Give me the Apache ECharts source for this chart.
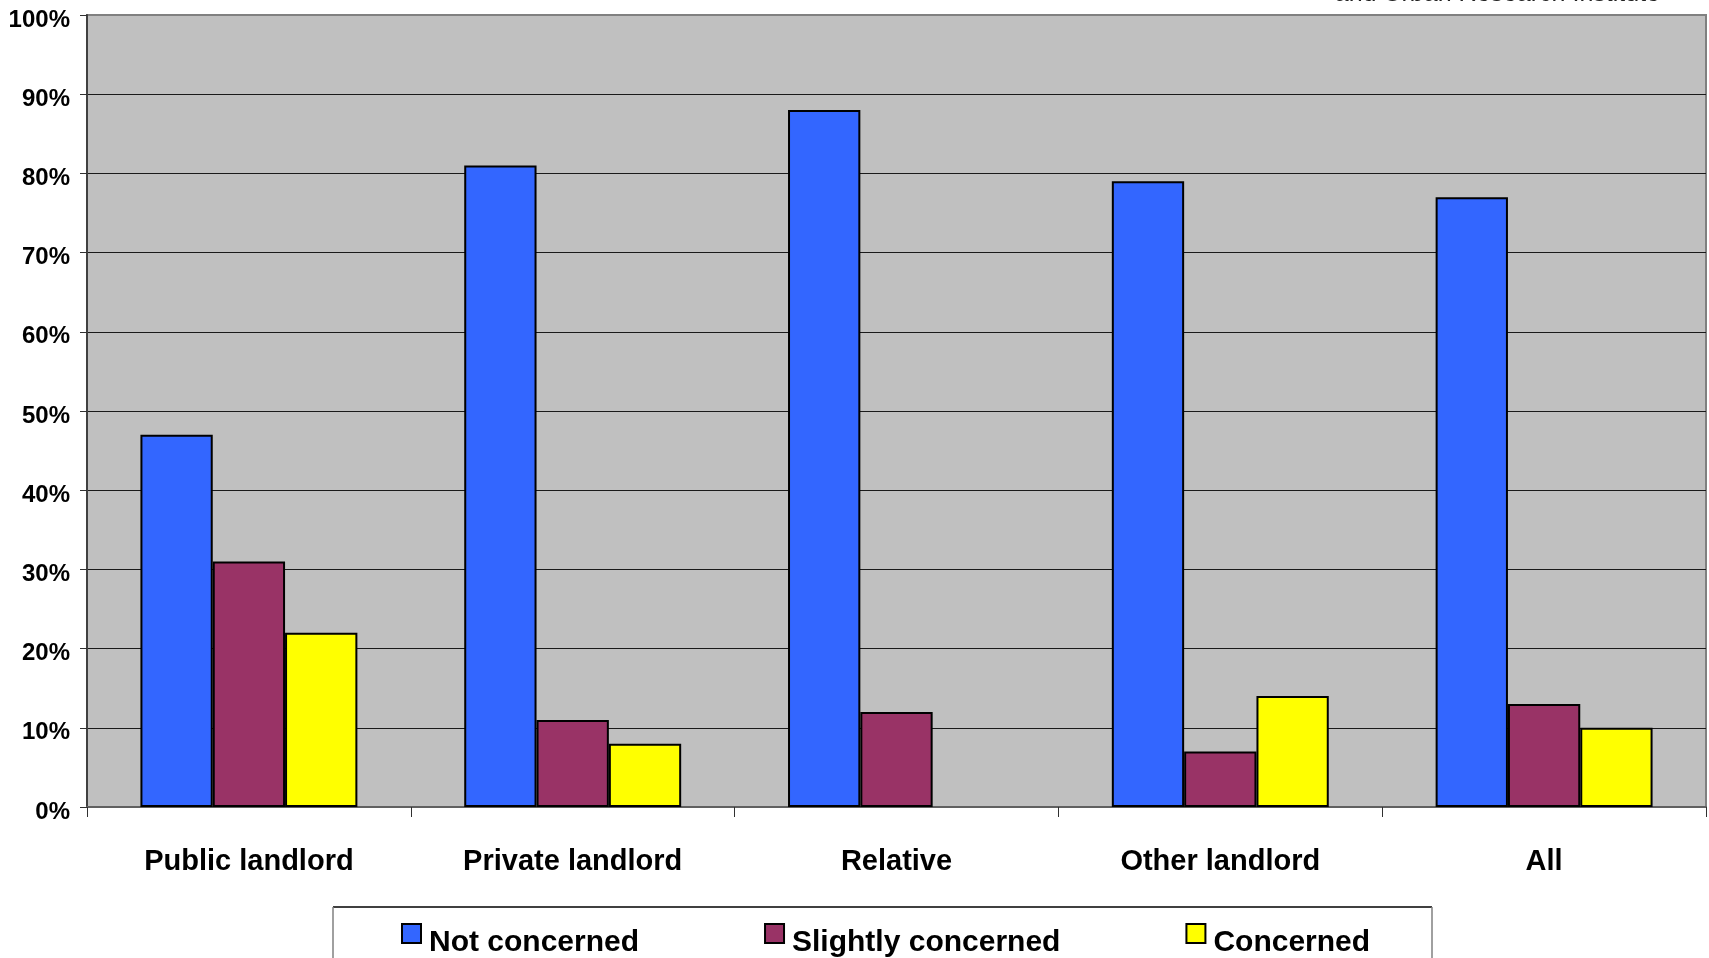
<!DOCTYPE html>
<html>
<head>
<meta charset="utf-8">
<style>
  html, body { margin: 0; padding: 0; background: #ffffff; }
  #chart { width: 1709px; height: 958px; }
</style>
<script src="https://cdn.jsdelivr.net/npm/echarts@6/dist/echarts.min.js"></script>
</head>
<body>
<div id="chart"></div>
<script>
// Landlord type categories along the x axis
const categories = ['Public landlord', 'Private landlord', 'Relative', 'Other landlord', 'All'];

// Share of tenants (%) by level of concern
const notConcerned = [47, 81, 88, 79, 77];
const slightlyConcerned = [31, 11, 12, 7, 13];
const concerned = [22, 8, null, 14, 10];

const seriesNames = ['Not concerned', 'Slightly concerned', 'Concerned'];
const seriesColors = ['#3366FF', '#993366', '#FFFF00'];

const FONT = '"Liberation Sans", Arial, Helvetica, sans-serif';

const chart = echarts.init(document.getElementById('chart'), null, { renderer: 'canvas' });

function barSeries(name, data, color) {
  return {
    name: name,
    type: 'bar',
    data: data,
    barGap: '0%',
    barCategoryGap: '33%',
    itemStyle: { color: color, borderColor: '#000000', borderWidth: 2 },
    emphasis: { disabled: true }
  };
}

chart.setOption({
  backgroundColor: '#ffffff',
  animation: false,
  textStyle: { fontFamily: FONT },
  grid: {
    left: 87,
    right: 3,
    top: 15,
    bottom: 151,
    show: true,
    backgroundColor: '#C0C0C0',
    borderColor: '#808080',
    borderWidth: 2
  },
  legend: {
    data: seriesNames,
    left: 401,
    top: 923,
    padding: 0,
    orient: 'horizontal',
    icon: 'rect',
    itemWidth: 19,
    itemHeight: 19,
    itemGap: 125,
    selectedMode: false,
    itemStyle: { borderColor: '#000000', borderWidth: 2 },
    formatter: function (name) { return '{t|' + name + '}'; },
    textStyle: {
      fontFamily: FONT,
      fontSize: 30,
      fontWeight: 'bold',
      color: '#000000',
      rich: {
        t: {
          fontFamily: FONT,
          fontSize: 30,
          fontWeight: 'bold',
          color: '#000000',
          padding: [18, 0, 0, 3]
        }
      }
    }
  },
  xAxis: {
    type: 'category',
    data: categories,
    boundaryGap: true,
    axisLine: { show: true, lineStyle: { color: '#606060', width: 2 } },
    axisTick: { show: true, length: 10, lineStyle: { color: '#303030', width: 1 } },
    axisLabel: {
      margin: 40,
      fontFamily: FONT,
      fontSize: 29,
      fontWeight: 'bold',
      color: '#000000'
    },
    splitLine: { show: false }
  },
  yAxis: {
    type: 'value',
    min: 0,
    max: 100,
    interval: 10,
    axisLine: { show: true, lineStyle: { color: '#404040', width: 2 } },
    axisTick: { show: true, length: 7, lineStyle: { color: '#303030', width: 1 } },
    axisLabel: {
      formatter: '{value}%',
      margin: 17,
      verticalAlign: 'top',
      lineHeight: 10,
      fontFamily: FONT,
      fontSize: 24,
      fontWeight: 'bold',
      color: '#000000'
    },
    splitLine: {
      show: true,
      showMinLine: false,
      showMaxLine: false,
      lineStyle: { color: '#1a1a1a', width: 1.2 }
    }
  },
  series: [
    barSeries(seriesNames[0], notConcerned, seriesColors[0]),
    barSeries(seriesNames[1], slightlyConcerned, seriesColors[1]),
    barSeries(seriesNames[2], concerned, seriesColors[2])
  ],
  graphic: [
    // Source note running off the top edge
    {
      type: 'text',
      right: 49,
      top: -18,
      z: 10,
      style: {
        text: 'and Urban Research Institute',
        font: '25px ' + FONT,
        fill: '#222222'
      }
    },
    // Legend frame (continues below the bottom edge)
    {
      type: 'line',
      z: 5,
      shape: { x1: 333, y1: 907, x2: 1432, y2: 907 },
      style: { stroke: '#000000', lineWidth: 1.5 }
    },
    {
      type: 'line',
      z: 5,
      shape: { x1: 333, y1: 907, x2: 333, y2: 960 },
      style: { stroke: '#808080', lineWidth: 1.5 }
    },
    {
      type: 'line',
      z: 5,
      shape: { x1: 1432, y1: 907, x2: 1432, y2: 960 },
      style: { stroke: '#808080', lineWidth: 1.5 }
    }
  ]
});
</script>
</body>
</html>
